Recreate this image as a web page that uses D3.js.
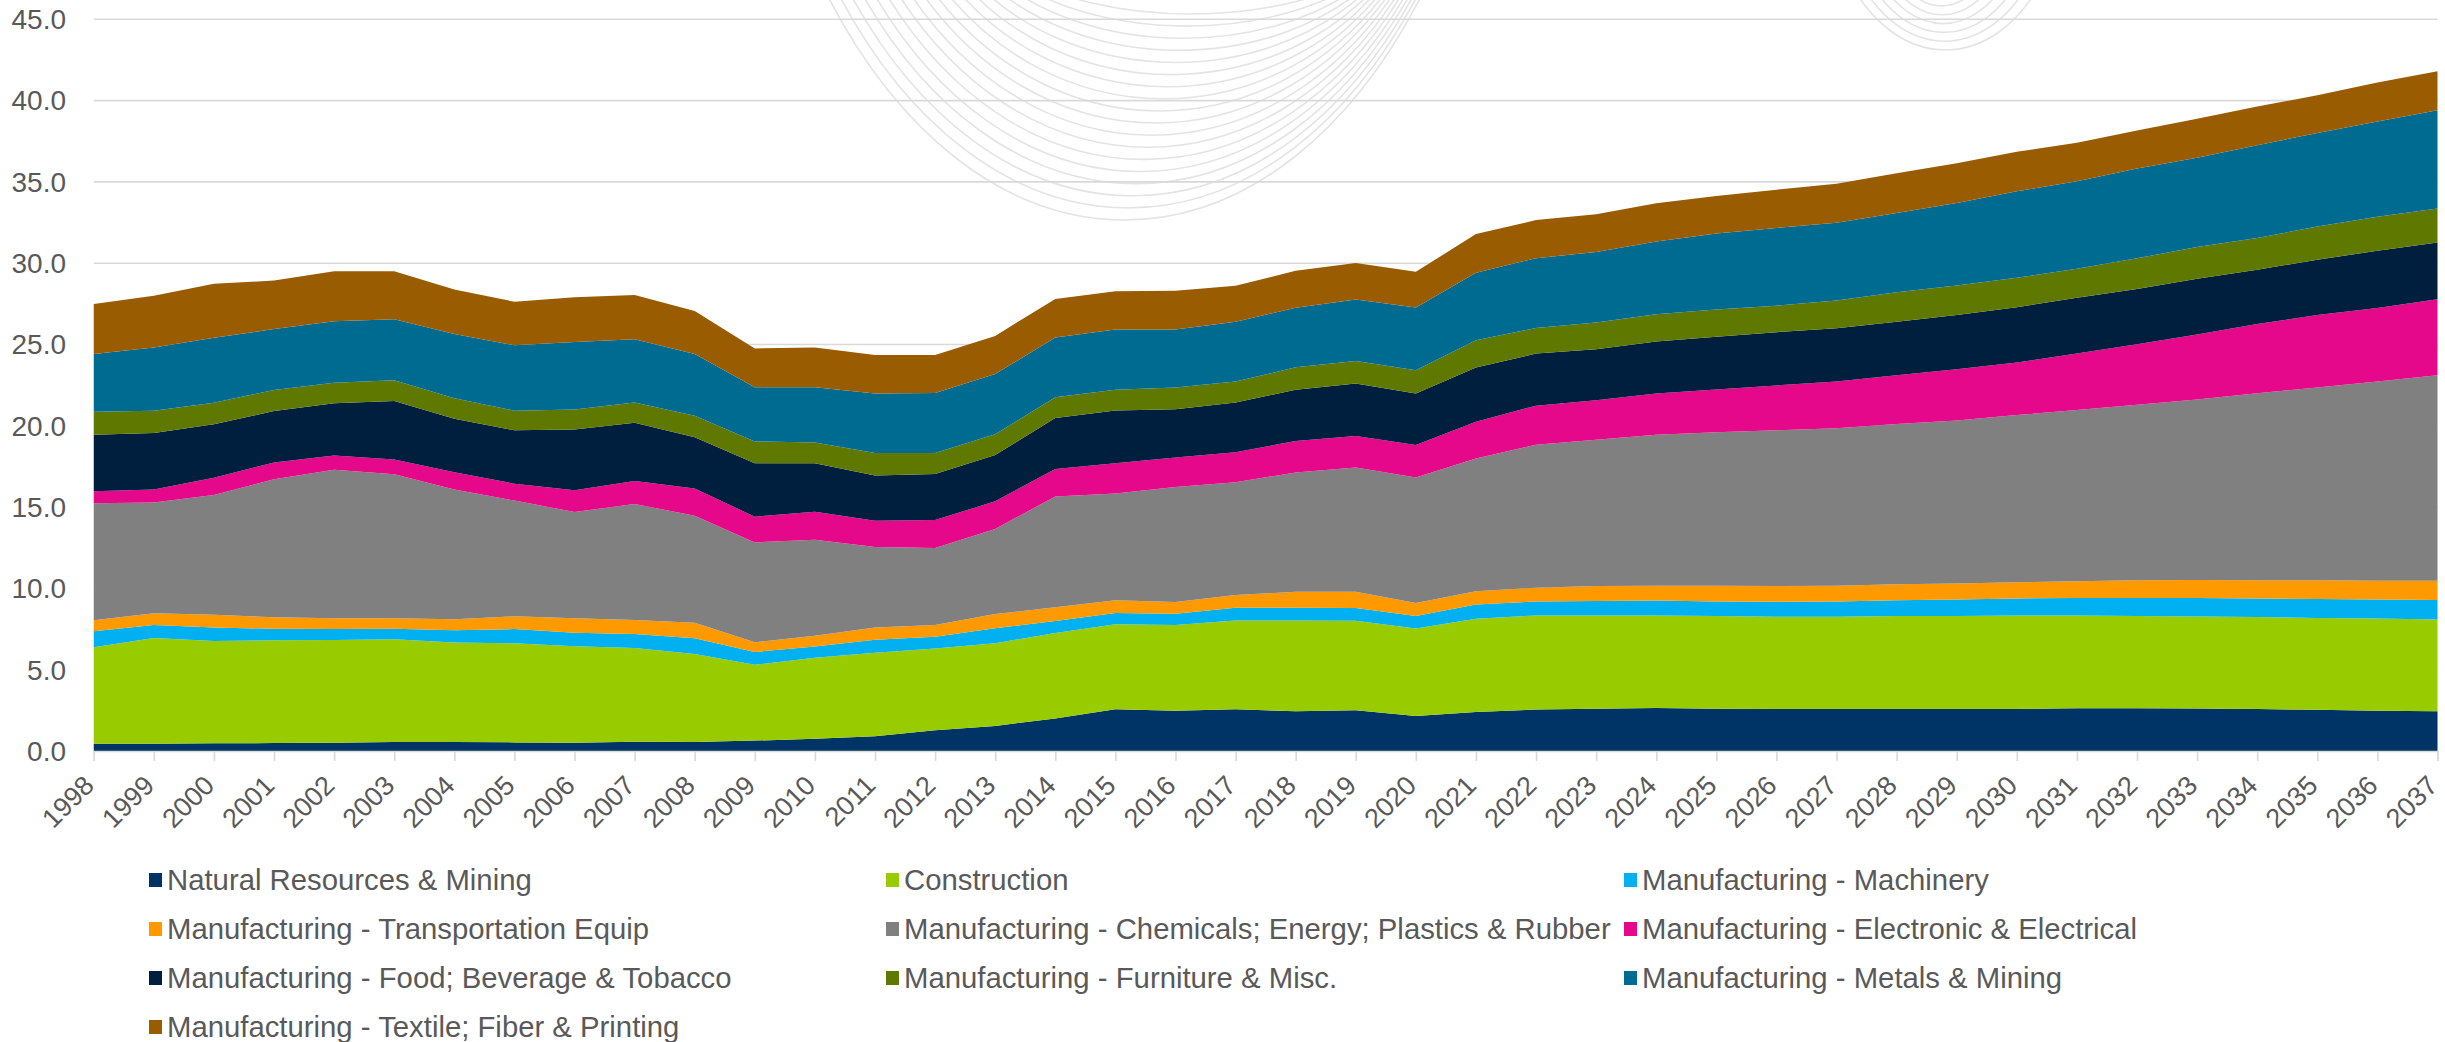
<!DOCTYPE html>
<html>
<head>
<meta charset="utf-8">
<script src="https://cdn.jsdelivr.net/npm/d3@7"></script>
<style>
  html, body { margin: 0; padding: 0; background: #fff; }
  svg { display: block; font-family: "Liberation Sans", Arial, sans-serif; }
</style>
</head>
<body>
<svg id="chart" width="2445" height="1042"></svg>
<script>
// Years on the category axis
const years = [1998, 1999, 2000, 2001, 2002, 2003, 2004, 2005, 2006, 2007,
               2008, 2009, 2010, 2011, 2012, 2013, 2014, 2015, 2016, 2017,
               2018, 2019, 2020, 2021, 2022, 2023, 2024, 2025, 2026, 2027,
               2028, 2029, 2030, 2031, 2032, 2033, 2034, 2035, 2036, 2037];

const yTicks = [0, 5, 10, 15, 20, 25, 30, 35, 40, 45];

// Sector values per year (stacked bottom to top)
const naturalResources = [0.45, 0.45, 0.47, 0.49, 0.51, 0.55, 0.55, 0.53, 0.51, 0.57,
  0.55, 0.64, 0.75, 0.91, 1.27, 1.54, 2.00, 2.56, 2.47, 2.56,
  2.45, 2.50, 2.15, 2.40, 2.55, 2.60, 2.65, 2.60, 2.58, 2.58,
  2.58, 2.58, 2.58, 2.63, 2.63, 2.61, 2.58, 2.53, 2.47, 2.45];
const construction = [5.93, 6.50, 6.30, 6.32, 6.32, 6.32, 6.13, 6.09, 5.93, 5.76,
  5.42, 4.66, 4.99, 5.14, 5.03, 5.09, 5.26, 5.24, 5.28, 5.46,
  5.57, 5.51, 5.38, 5.74, 5.79, 5.74, 5.69, 5.70, 5.67, 5.67,
  5.72, 5.72, 5.76, 5.71, 5.67, 5.66, 5.66, 5.65, 5.68, 5.64];
const machinery = [0.98, 0.80, 0.82, 0.71, 0.67, 0.65, 0.74, 0.88, 0.84, 0.87,
  0.96, 0.79, 0.68, 0.79, 0.73, 0.92, 0.74, 0.68, 0.69, 0.79,
  0.79, 0.79, 0.78, 0.87, 0.86, 0.89, 0.91, 0.90, 0.93, 0.95,
  0.97, 1.02, 1.04, 1.07, 1.11, 1.14, 1.14, 1.17, 1.17, 1.20];
const transportation = [0.68, 0.72, 0.79, 0.70, 0.66, 0.64, 0.68, 0.78, 0.88, 0.86,
  0.96, 0.60, 0.67, 0.75, 0.72, 0.87, 0.84, 0.79, 0.73, 0.79,
  0.98, 0.99, 0.79, 0.82, 0.84, 0.91, 0.91, 0.96, 0.96, 0.96,
  0.98, 0.98, 1.00, 1.03, 1.09, 1.11, 1.12, 1.15, 1.15, 1.18];
const chemicals = [7.19, 6.82, 7.36, 8.49, 9.14, 8.86, 7.99, 7.12, 6.54, 7.13,
  6.58, 6.14, 5.90, 4.95, 4.74, 5.24, 6.81, 6.57, 7.07, 6.93,
  7.34, 7.65, 7.72, 8.16, 8.80, 9.00, 9.29, 9.45, 9.59, 9.69,
  9.86, 10.03, 10.28, 10.53, 10.80, 11.09, 11.50, 11.86, 12.25, 12.64];
const electronic = [0.74, 0.80, 1.07, 1.04, 0.88, 0.90, 1.05, 1.04, 1.33, 1.42,
  1.68, 1.58, 1.73, 1.62, 1.71, 1.70, 1.69, 1.85, 1.81, 1.85,
  1.93, 1.93, 2.00, 2.26, 2.40, 2.43, 2.53, 2.63, 2.75, 2.87,
  3.00, 3.15, 3.23, 3.48, 3.71, 4.01, 4.26, 4.45, 4.52, 4.68];
const food = [3.48, 3.47, 3.28, 3.16, 3.20, 3.61, 3.30, 3.28, 3.75, 3.58,
  3.14, 3.28, 2.97, 2.78, 2.83, 2.85, 3.14, 3.25, 2.97, 3.05,
  3.16, 3.23, 3.17, 3.34, 3.20, 3.14, 3.21, 3.23, 3.28, 3.28,
  3.29, 3.34, 3.40, 3.43, 3.40, 3.43, 3.34, 3.40, 3.53, 3.48];
const furniture = [1.42, 1.37, 1.33, 1.29, 1.27, 1.27, 1.25, 1.21, 1.23, 1.25,
  1.33, 1.35, 1.29, 1.38, 1.29, 1.27, 1.27, 1.28, 1.33, 1.29,
  1.38, 1.39, 1.43, 1.67, 1.58, 1.65, 1.67, 1.68, 1.63, 1.70,
  1.81, 1.81, 1.81, 1.78, 1.89, 1.95, 1.95, 2.04, 2.09, 2.09];
const metals = [3.55, 3.88, 4.00, 3.75, 3.78, 3.75, 3.96, 4.02, 4.14, 3.88,
  3.80, 3.33, 3.39, 3.66, 3.70, 3.70, 3.68, 3.71, 3.58, 3.68,
  3.66, 3.78, 3.86, 4.16, 4.29, 4.33, 4.48, 4.67, 4.78, 4.79,
  4.88, 5.07, 5.32, 5.38, 5.52, 5.48, 5.71, 5.76, 5.85, 6.05];
const textile = [3.07, 3.19, 3.32, 2.98, 3.07, 2.95, 2.74, 2.68, 2.75, 2.72,
  2.64, 2.39, 2.45, 2.37, 2.33, 2.35, 2.37, 2.34, 2.37, 2.21,
  2.28, 2.25, 2.19, 2.37, 2.34, 2.32, 2.34, 2.32, 2.35, 2.39,
  2.44, 2.45, 2.43, 2.37, 2.34, 2.40, 2.37, 2.32, 2.40, 2.39];

// Series labels, in stacking and legend order
const seriesNames = [
  "Natural Resources & Mining",
  "Construction",
  "Manufacturing - Machinery",
  "Manufacturing - Transportation Equip",
  "Manufacturing - Chemicals; Energy; Plastics & Rubber",
  "Manufacturing - Electronic & Electrical",
  "Manufacturing - Food; Beverage & Tobacco",
  "Manufacturing - Furniture & Misc.",
  "Manufacturing - Metals & Mining",
  "Manufacturing - Textile; Fiber & Printing"
];
const seriesValues = [naturalResources, construction, machinery, transportation,
  chemicals, electronic, food, furniture, metals, textile];
const seriesColors = ["#003366", "#99CC00", "#00B0F0", "#FF9900", "#808080",
  "#E6088A", "#001F3F", "#5E7800", "#006B91", "#995C00"];

// Build one row per year for d3.stack
const rows = years.map((yr, i) => {
  const r = { year: yr };
  seriesNames.forEach((n, k) => { r[n] = seriesValues[k][i]; });
  return r;
});

const svg = d3.select("#chart");

const x = d3.scaleLinear().domain([years[0], years[years.length - 1]]).range([93.75, 2437.5]);
const y = d3.scaleLinear().domain([0, 45]).range([751, 19.3]);

// Faint background ornament: two families of nested arcs
const deco = svg.append("g").attr("fill", "none").attr("stroke", "#e4e4e4").attr("stroke-width", 1.6);
function arcPath(lx, rx, y0, vy) {
  const w = rx - lx, h = (vy - y0) * 4 / 3;
  return `M${lx},${y0} C${lx + w * 0.25},${y0 + h} ${rx - w * 0.25},${y0 + h} ${rx},${y0}`;
}
d3.range(18).forEach(k => {
  const t = k / 17;
  deco.append("path").attr("d", arcPath(1010 - 195 * t, 1372 + 62 * t, -30, 14 + 206 * t));
});
d3.range(6).forEach(k => {
  const t = k / 5;
  deco.append("path").attr("d", arcPath(1898 - 52 * t, 1985 + 60 * t, -25, 6 + 44 * t));
});

// Horizontal gridlines
svg.append("g")
  .selectAll("line")
  .data(yTicks.filter(v => v > 0))
  .join("line")
  .attr("x1", x(years[0])).attr("x2", x(years[years.length - 1]))
  .attr("y1", d => y(d)).attr("y2", d => y(d))
  .attr("stroke", "#d9d9d9").attr("stroke-width", 1.6);

// Stacked areas
const stack = d3.stack().keys(seriesNames);
const layers = stack(rows);
const area = d3.area()
  .x(d => x(d.data.year))
  .y0(d => y(d[0]))
  .y1(d => y(d[1]));

svg.append("g")
  .selectAll("path")
  .data(layers)
  .join("path")
  .attr("d", area)
  .attr("fill", (d, i) => seriesColors[i]);

// Category axis
const xAxis = d3.axisBottom(x).tickValues(years).tickSize(10).tickFormat("");
const gx = svg.append("g").attr("transform", `translate(0,${y(0)})`).call(xAxis);
gx.select(".domain").attr("stroke", "#d9d9d9").attr("stroke-width", 1.6);
gx.selectAll(".tick line").attr("stroke", "#d9d9d9").attr("stroke-width", 1.6);

svg.append("g")
  .selectAll("text")
  .data(years)
  .join("text")
  .attr("transform", d => `translate(${x(d) + 2},${y(0) + 36}) rotate(-45)`)
  .attr("text-anchor", "end")
  .attr("font-size", 27)
  .attr("fill", "#595959")
  .text(d => d);

// Value axis labels
svg.append("g")
  .selectAll("text")
  .data(yTicks)
  .join("text")
  .attr("x", 66)
  .attr("y", d => y(d))
  .attr("dy", "0.35em")
  .attr("text-anchor", "end")
  .attr("font-size", 28)
  .attr("fill", "#595959")
  .text(d => d3.format(".1f")(d));

// Legend: three columns, four rows
const colX = [167, 904, 1642];
const leg = svg.append("g")
  .selectAll("g")
  .data(seriesNames)
  .join("g")
  .attr("transform", (d, i) => `translate(${colX[i % 3]},${880 + Math.floor(i / 3) * 49})`);
leg.append("rect")
  .attr("x", -18).attr("y", -7).attr("width", 13).attr("height", 14)
  .attr("fill", (d, i) => seriesColors[i]);
leg.append("text")
  .attr("x", 0).attr("dy", "0.35em")
  .attr("font-size", 29.3)
  .attr("fill", "#595959")
  .text(d => d);
</script>
</body>
</html>
